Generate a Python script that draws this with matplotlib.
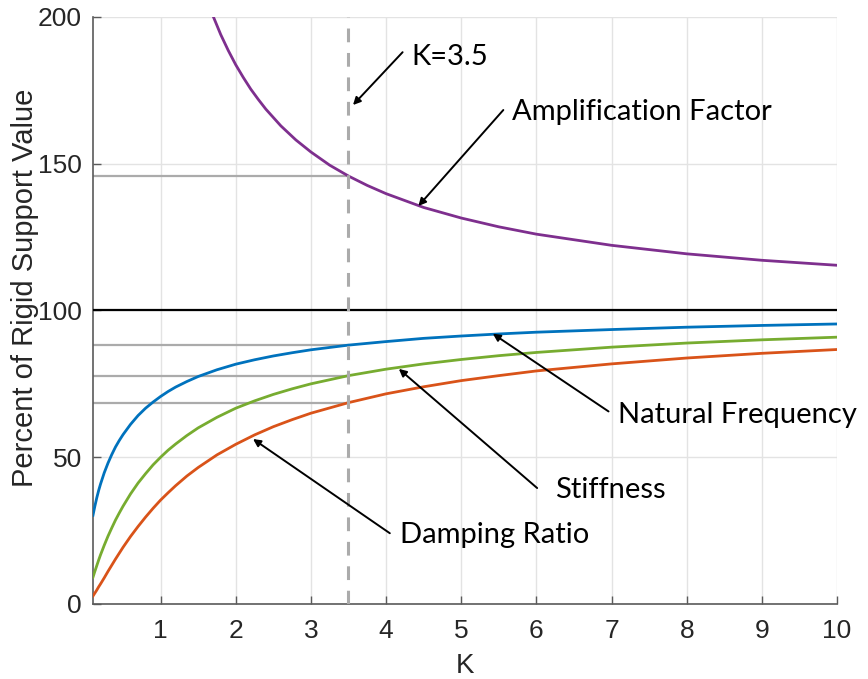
import numpy as np
import matplotlib.pyplot as plt

# percent of rigid-support value vs. support flexibility ratio K
k_vals = [0.1, 0.125, 0.15, 0.175, 0.2, 0.25, 0.3, 0.35, 0.4, 0.45, 0.5, 0.6, 0.7, 0.8, 0.9,
          1.0, 1.1, 1.2, 1.35, 1.5, 1.75, 2.0, 2.25, 2.5, 2.75, 3.0, 3.5, 4.0, 4.5, 5.0,
          5.5, 6.0, 7.0, 8.0, 9.0, 10.0]
nat_freq = [30.2, 33.3, 36.1, 38.6, 40.8, 44.7, 48.0, 50.9, 53.5, 55.7, 57.7, 61.2, 64.2, 66.7, 68.8,
            70.7, 72.4, 73.9, 75.8, 77.5, 79.8, 81.7, 83.2, 84.5, 85.6, 86.6, 88.2, 89.4, 90.5, 91.3,
            92.0, 92.6, 93.5, 94.3, 94.9, 95.4]
stiffness = [9.1, 11.1, 13.0, 14.9, 16.7, 20.0, 23.1, 25.9, 28.6, 31.0, 33.3, 37.5, 41.2, 44.4, 47.4,
             50.0, 52.4, 54.5, 57.4, 60.0, 63.6, 66.7, 69.2, 71.4, 73.3, 75.0, 77.8, 80.0, 81.8, 83.3,
             84.6, 85.7, 87.5, 88.9, 90.0, 90.9]
damping = [2.7, 3.7, 4.7, 5.8, 6.8, 8.9, 11.1, 13.2, 15.3, 17.3, 19.3, 23.0, 26.4, 29.6, 32.6,
           35.4, 37.9, 40.3, 43.6, 46.5, 50.8, 54.4, 57.6, 60.4, 62.8, 65.0, 68.6, 71.6, 74.0, 76.1,
           77.8, 79.4, 81.8, 83.8, 85.4, 86.7]

k_amp = [1.6, 1.65, 1.7, 1.8, 1.9, 2.0, 2.1, 2.2, 2.3, 2.4, 2.6, 2.8, 3.0, 3.25, 3.5, 3.75,
         4.0, 4.5, 5.0, 5.5, 6.0, 7.0, 8.0, 9.0, 10.0]
amp_factor = [207.1, 203.5, 200.2, 194.0, 188.6, 183.7, 179.4, 175.4, 171.9, 168.6, 162.9, 158.1,
              154.0, 149.5, 145.8, 142.6, 139.8, 135.1, 131.5, 128.5, 126.0, 122.2, 119.3, 117.1, 115.4]

k_sel = 3.5

blue = '#0072BD'
orange = '#D95319'
green = '#77AC30'
purple = '#7E2F8E'
ref_gray = '#ababab'

plt.rcParams['font.family'] = ['Liberation Sans', 'DejaVu Sans']

fig = plt.figure(figsize=(8.68, 6.79), dpi=100)
ax = fig.add_axes([0.1071, 0.1105, 0.8572, 0.8645])

# guide lines at K = 3.5
i_sel = k_vals.index(k_sel)
for val in [amp_factor[k_amp.index(k_sel)], nat_freq[i_sel], stiffness[i_sel], damping[i_sel]]:
    ax.plot([0.1, k_sel], [val, val], color=ref_gray, lw=1.6, zorder=2)
ax.axhline(100, color='k', lw=1.6, zorder=3)

ax.plot(k_vals, nat_freq, color=blue, lw=2.0, zorder=4)
ax.plot(k_vals, stiffness, color=green, lw=2.0, zorder=4)
ax.plot(k_vals, damping, color=orange, lw=2.0, zorder=4)
ax.plot(k_amp, amp_factor, color=purple, lw=2.0, zorder=4)

ax.plot([k_sel, k_sel], [0, 200], color=ref_gray, lw=2.2, dashes=(4.5, 3.5), zorder=5)

ax.set_xlim(0.1, 10)
ax.set_ylim(0, 200)
ax.set_xticks(range(1, 11))
ax.set_yticks([0, 50, 100, 150, 200])
ax.grid(True, color='#e3e3e3', lw=1.0, zorder=0)
ax.set_axisbelow(True)

for s in ['top', 'right']:
    ax.spines[s].set_visible(False)
for s in ['left', 'bottom']:
    ax.spines[s].set_color('#5a5a5a')
    ax.spines[s].set_linewidth(1.2)
ax.tick_params(direction='in', length=6, width=1.0, color='#5a5a5a',
               labelsize=19, labelcolor='#262626')
ax.tick_params(axis='x', pad=11)
ax.tick_params(axis='y', pad=8)

ax.set_xlabel('K', fontsize=20, color='#262626')
ax.set_ylabel('Percent of Rigid Support Value', fontsize=21, color='#262626')
ax.xaxis.set_label_coords(0.5, -0.084)
ax.yaxis.set_label_coords(-0.073, 0.538)

arrow = dict(arrowstyle='-|>', color='k', lw=1.4, mutation_scale=11, shrinkA=0, shrinkB=0)
lbl = dict(fontsize=21, family=['Lato', 'DejaVu Sans'], color='k', va='baseline', ha='left')

# (label, arrow head, arrow tail, text baseline start)
notes = [
    ('K=3.5', (3.56, 170.0), (4.22, 188.0), (4.34, 183.8)),
    ('Amplification Factor', (4.43, 135.6), (5.56, 168.3), (5.68, 165.0)),
    ('Natural Frequency', (5.42, 92.1), (6.96, 65.6), (7.09, 61.7)),
    ('Stiffness', (4.17, 80.1), (6.01, 39.5), (6.25, 36.1)),
    ('Damping Ratio', (2.23, 56.2), (4.05, 24.1), (4.19, 20.8)),
]
for text, head, tail, pos in notes:
    ax.annotate('', xy=head, xytext=tail, arrowprops=arrow, zorder=6)
    ax.text(pos[0], pos[1], text, clip_on=False, zorder=6, **lbl)

fig.savefig('out.png', dpi=100)
